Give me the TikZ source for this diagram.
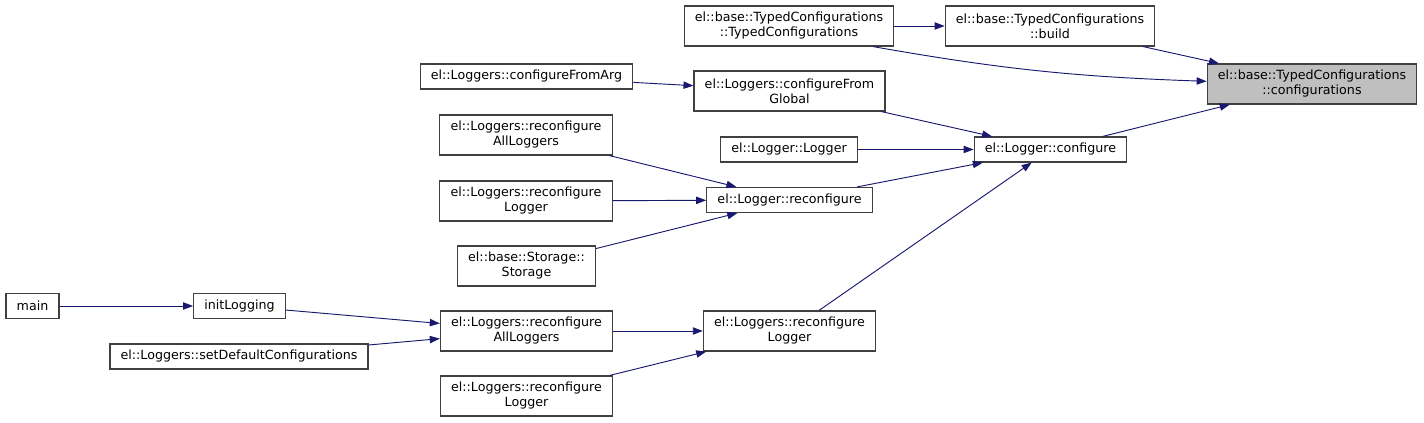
\documentclass[tikz,border=0pt]{standalone}
\usepackage{fontspec}
\setmainfont{DejaVu Sans}
\usepackage{tikz}
\usetikzlibrary{arrows.meta}
\definecolor{edgeBlue}{RGB}{25,25,112}
\definecolor{boxBorder}{RGB}{64,64,64}
\definecolor{boxHit}{RGB}{191,191,191}
\tikzset{
  fn/.style={draw=boxBorder,line width=0.9pt,fill=white,inner xsep=8pt,inner ysep=1pt,
             minimum height=18.75pt,font=\fontsize{9.5}{11.25}\selectfont,align=center},
  fnTwo/.style={fn,minimum height=30pt},
  fnHit/.style={fnTwo,fill=boxHit},
  arr/.style={-{Triangle[length=7.5pt,width=5.5pt]},line width=0.7pt,draw=edgeBlue},
}

\begin{document}
\begin{tikzpicture}[x=0.75pt,y=-0.75pt]
  \useasboundingbox (0,0) rectangle (1424,423);
  % callee
  \node[fnHit] (conf)        at (1312,84)    {el::base::TypedConfigurations\\::configurations};
  % direct callers
  \node[fnTwo] (tcCtor)      at (789,26)     {el::base::TypedConfigurations\\::TypedConfigurations};
  \node[fnTwo] (tcBuild)     at (1050,26)    {el::base::TypedConfigurations\\::build};
  \node[fn]    (lgConfigure) at (1050.5,149.5) {el::Logger::configure};
  % callers of configure
  \node[fnTwo] (cfgGlobal)   at (789.5,91)   {el::Loggers::configureFrom\\Global};
  \node[fn]    (lgCtor)      at (789,149.5)  {el::Logger::Logger};
  \node[fn]    (lgReconf)    at (789.5,200)  {el::Logger::reconfigure};
  \node[fnTwo] (rlogMid)     at (789.5,331)  {el::Loggers::reconfigure\\Logger};
  % third column
  \node[fn]    (cfgArg)      at (526.5,76.5) {el::Loggers::configureFromArg};
  \node[fnTwo] (rallTop)     at (526,135)    {el::Loggers::reconfigure\\AllLoggers};
  \node[fnTwo] (rlogTop)     at (526,201)    {el::Loggers::reconfigure\\Logger};
  \node[fnTwo] (storageCtor) at (526.5,266)  {el::base::Storage::\\Storage};
  \node[fnTwo] (rallLow)     at (526.5,331)  {el::Loggers::reconfigure\\AllLoggers};
  \node[fnTwo] (rlogLow)     at (526.5,396)  {el::Loggers::reconfigure\\Logger};
  % far left
  \node[fn]    (initLog)     at (239.5,306)  {initLogging};
  \node[fn]    (setDefault)  at (239,356.5)  {el::Loggers::setDefaultConfigurations};
  \node[fn]    (mainFn)      at (32.5,306)   {main};

  \draw[arr](tcCtor)  -- (tcBuild);
  \draw[arr]([xshift=-16pt]tcCtor.south east) to[out=-10,in=178] ([yshift=2pt]conf.west);
  \draw[arr](tcBuild) -- (conf);
  \draw[arr](lgConfigure) -- (conf);
  \draw[arr](cfgGlobal) -- (lgConfigure);
  \draw[arr](lgCtor)    -- (lgConfigure);
  \draw[arr](lgReconf)  -- (lgConfigure);
  \draw[arr](rlogMid)   -- (lgConfigure);
  \draw[arr](cfgArg)    -- (cfgGlobal);
  \draw[arr](rallTop)   -- (lgReconf);
  \draw[arr](rlogTop)   -- (lgReconf);
  \draw[arr](storageCtor) -- (lgReconf);
  \draw[arr](rallLow)   -- (rlogMid);
  \draw[arr](rlogLow)   -- (rlogMid);
  \draw[arr](initLog)   -- (rallLow);
  \draw[arr](setDefault) -- (rallLow);
  \draw[arr](mainFn)    -- (initLog);
\end{tikzpicture}
\end{document}
